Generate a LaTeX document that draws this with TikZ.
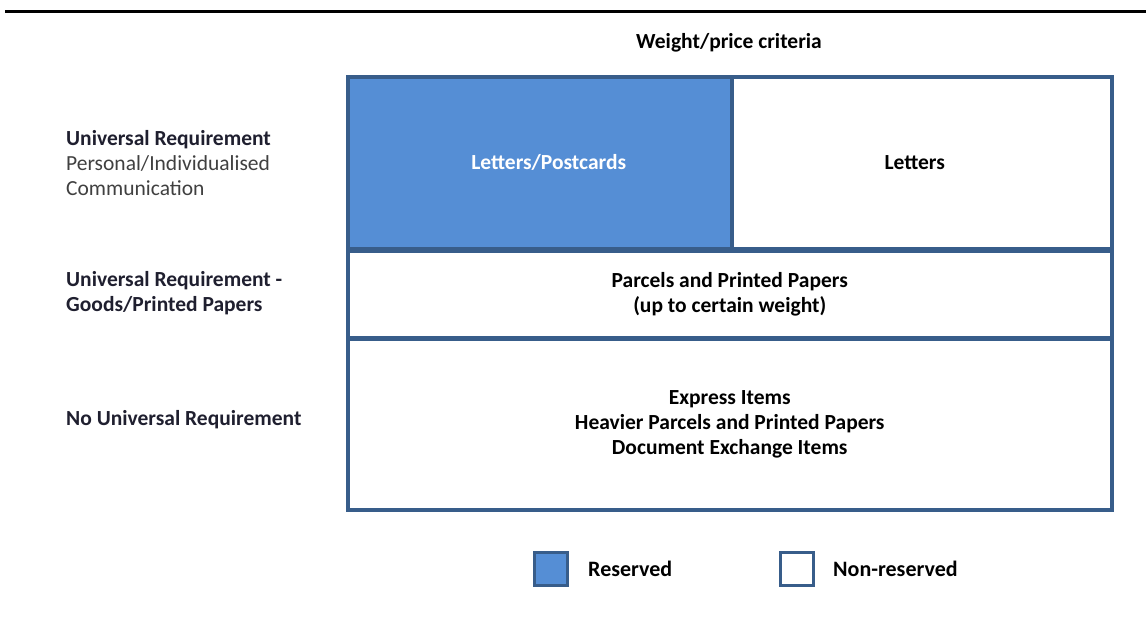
\documentclass[tikz,border=0pt]{standalone}
\usepackage{fontspec}
\setmainfont{Carlito}
\definecolor{frame}{HTML}{385D8A}
\definecolor{reserved}{HTML}{558ED5}
\definecolor{labeltext}{HTML}{1F1F2F}
\definecolor{subtext}{HTML}{404040}
\begin{document}
\begin{tikzpicture}[x=1pt,y=-1pt,
  cell/.style={draw=frame,line width=3.5pt,inner sep=0pt,anchor=north west,
    align=center,font=\fontsize{21.5}{25}\selectfont\bfseries},
  rowlabel/.style={anchor=west,align=left,inner sep=0pt,text=labeltext,
    font=\fontsize{21.5}{25}\selectfont\bfseries},
  legendbox/.style={draw=frame,line width=3.5pt,minimum width=33pt,minimum height=33pt,inner sep=0pt},
  legendtext/.style={anchor=west,inner sep=0pt,font=\fontsize{22}{24}\selectfont\bfseries}
]
\useasboundingbox (0,0) rectangle (1146,619);

% rule across the top
\draw[line width=3pt] (5,11.5) -- (1146,11.5);

% column heading
\node[font=\fontsize{21.5}{25}\selectfont\bfseries] (head) at (729,42.5) {Weight/price criteria};

% grid of mail categories
\node[cell,fill=reserved,text=white,minimum width=384pt,minimum height=172pt] (post) at (346,75) {\hspace*{18pt}Letters/Postcards};
\node[cell,fill=white,minimum width=380pt,minimum height=172pt] (letters) at (730,75) {Letters\hspace*{14pt}};
\node[cell,fill=white,minimum width=764pt,minimum height=87pt] (parcels) at (346,249) {Parcels and Printed Papers\\(up to certain weight)};
\node[cell,fill=white,minimum width=764pt,minimum height=171pt] (express) at (346,337) {Express Items\\Heavier Parcels and Printed Papers\\Document Exchange Items};

% row headings
\node[rowlabel] (r1) at (66,163) {Universal Requirement\\{\mdseries\color{subtext}Personal/Individualised}\\{\mdseries\color{subtext}Communication}};
\node[rowlabel] (r2) at (66,293) {Universal Requirement -\\Goods/Printed Papers};
\node[rowlabel] (r3) at (66,420) {No Universal Requirement};

% legend
\node[legendbox,fill=reserved] (kres) at (551,569) {};
\node[legendtext] (tres) at (588,569) {Reserved};
\node[legendbox,fill=white] (knon) at (797,569) {};
\node[legendtext] (tnon) at (833,569) {Non-reserved};
\end{tikzpicture}
\end{document}
